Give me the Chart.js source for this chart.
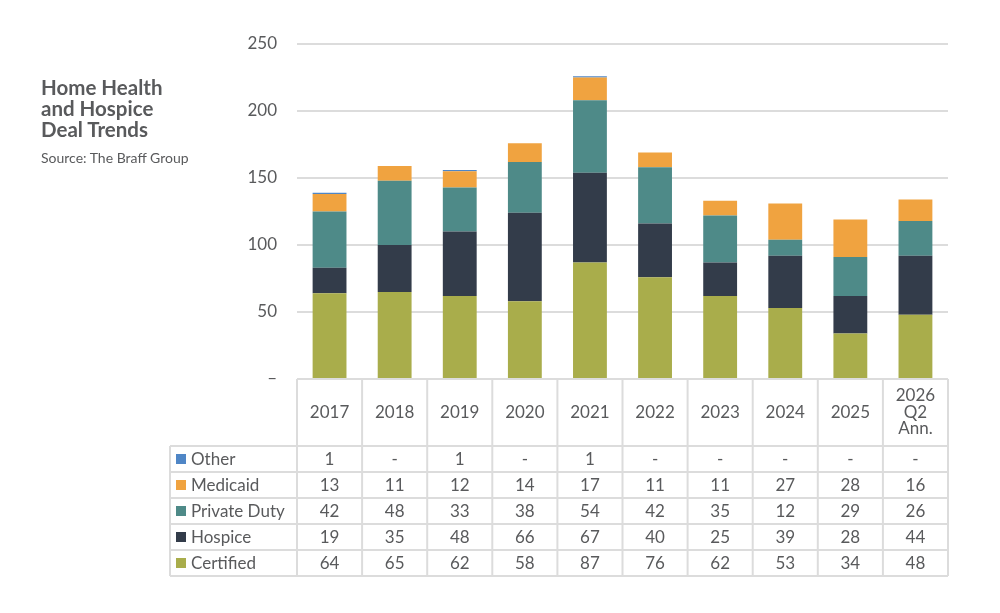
<!DOCTYPE html>
<html>
<head>
<meta charset="utf-8">
<script src="https://cdn.jsdelivr.net/npm/chart.js@4"></script>
<style>
  html, body { margin: 0; padding: 0; background: #fff; }
  #wrap { position: relative; width: 1000px; height: 613px; }
  #title {
    position: absolute; left: 41px; top: 77px;
    font: bold 20.5px/21px Lato, sans-serif; color: #595a5c;
  }
  #source {
    position: absolute; left: 41px; top: 149px;
    font: 14px Lato, sans-serif; color: #595a5c;
  }
</style>
</head>
<body>
<div id="wrap">
  <canvas id="dealChart" width="1000" height="613"></canvas>
  <div id="title">Home Health<br>and Hospice<br>Deal Trends</div>
  <div id="source">Source: The Braff Group</div>
</div>
<script>
/* ── Data ── */
const years = ['2017', '2018', '2019', '2020', '2021', '2022', '2023', '2024', '2025', ['2026', 'Q2', 'Ann.']];
const seriesNames = ['Certified', 'Hospice', 'Private Duty', 'Medicaid', 'Other'];
const certified   = [64, 65, 62, 58, 87, 76, 62, 53, 34, 48];
const hospice     = [19, 35, 48, 66, 67, 40, 25, 39, 28, 44];
const privateDuty = [42, 48, 33, 38, 54, 42, 35, 12, 29, 26];
const medicaid    = [13, 11, 12, 14, 17, 11, 11, 27, 28, 16];
const other       = [1, 0, 1, 0, 1, 0, 0, 0, 0, 0];
const yTicks      = [0, 50, 100, 150, 200, 250];

/* ── Series colors ── */
const SERIES_COLORS = ['#A9AD4B', '#333C4A', '#4E8A88', '#F0A340', '#4F86C6'];
const TEXT = '#595a5c';
const LINE = '#dcdcdc';
const FONT = 'Lato, sans-serif';

const allSeries = [certified, hospice, privateDuty, medicaid, other];

/* Table rows run top to bottom: Other first, Certified last */
const tableOrder = [4, 3, 2, 1, 0];

/**
 * Draws the data table under the plot, using the x scale for column positions.
 */
const dataTable = {
  id: 'dataTable',
  afterDraw(chart) {
    const ctx = chart.ctx;
    const xs = chart.scales.x;
    const area = chart.chartArea;
    const colW = (area.right - area.left) / years.length;
    const top = area.bottom;
    const headH = 67;
    const rowH = 26;
    const leftX = 170;
    const bottom = top + headH + rowH * tableOrder.length;

    ctx.save();
    ctx.strokeStyle = LINE;
    ctx.lineWidth = 2;

    /* horizontal lines */
    ctx.beginPath();
    ctx.moveTo(area.left, top); ctx.lineTo(area.right, top);
    for (let r = 0; r <= tableOrder.length; r++) {
      const y = top + headH + r * rowH;
      ctx.moveTo(leftX, y); ctx.lineTo(area.right, y);
    }
    /* vertical lines */
    ctx.moveTo(leftX, top + headH); ctx.lineTo(leftX, bottom);
    for (let c = 0; c <= years.length; c++) {
      const x = area.left + c * colW;
      ctx.moveTo(x, top); ctx.lineTo(x, bottom);
    }
    ctx.stroke();

    ctx.fillStyle = TEXT;
    ctx.font = '17px ' + FONT;
    ctx.textAlign = 'center';
    ctx.textBaseline = 'middle';

    /* header: years */
    years.forEach((lab, i) => {
      const cx = xs.getPixelForValue(i);
      const lines = Array.isArray(lab) ? lab : [lab];
      const lh = 16.5;
      const y0 = top + headH / 2 - (lines.length - 1) * lh / 2;
      lines.forEach((t, k) => ctx.fillText(t, cx, y0 + k * lh));
    });

    /* body rows */
    tableOrder.forEach((s, r) => {
      const cy = top + headH + r * rowH + rowH / 2 + 1;
      ctx.fillStyle = SERIES_COLORS[s];
      ctx.fillRect(leftX + 6, cy - 6, 10, 10);
      ctx.fillStyle = TEXT;
      ctx.textAlign = 'left';
      ctx.fillText(seriesNames[s], leftX + 21, cy);
      ctx.textAlign = 'center';
      allSeries[s].forEach((v, i) => {
        ctx.fillText(v ? String(v) : '-', xs.getPixelForValue(i), cy);
      });
    });
    ctx.restore();
  }
};

new Chart(document.getElementById('dealChart'), {
  type: 'bar',
  data: {
    labels: years,
    datasets: allSeries.map((vals, i) => ({
      label: seriesNames[i],
      data: vals,
      backgroundColor: SERIES_COLORS[i],
      borderWidth: 0,
      categoryPercentage: 1,
      barPercentage: 0.52
    }))
  },
  options: {
    responsive: false,
    animation: false,
    layout: { padding: { top: 44, right: 52, bottom: 234, left: 0 } },
    plugins: {
      legend: { display: false },
      tooltip: { enabled: false }
    },
    scales: {
      x: {
        stacked: true,
        grid: { display: false },
        border: { display: false },
        ticks: { display: false },
        afterFit: s => { s.height = 0; }
      },
      y: {
        stacked: true,
        min: 0,
        max: 250,
        afterFit: s => { s.width = 297; },
        afterBuildTicks: s => { s.ticks = yTicks.map(v => ({ value: v })); },
        border: { display: false },
        grid: { color: LINE, lineWidth: 2, drawTicks: false },
        ticks: {
          padding: 20,
          color: TEXT,
          font: { family: FONT, size: 17 },
          callback: v => (v === 0 ? '–' : v)
        }
      }
    }
  },
  plugins: [dataTable]
});
</script>
</body>
</html>
